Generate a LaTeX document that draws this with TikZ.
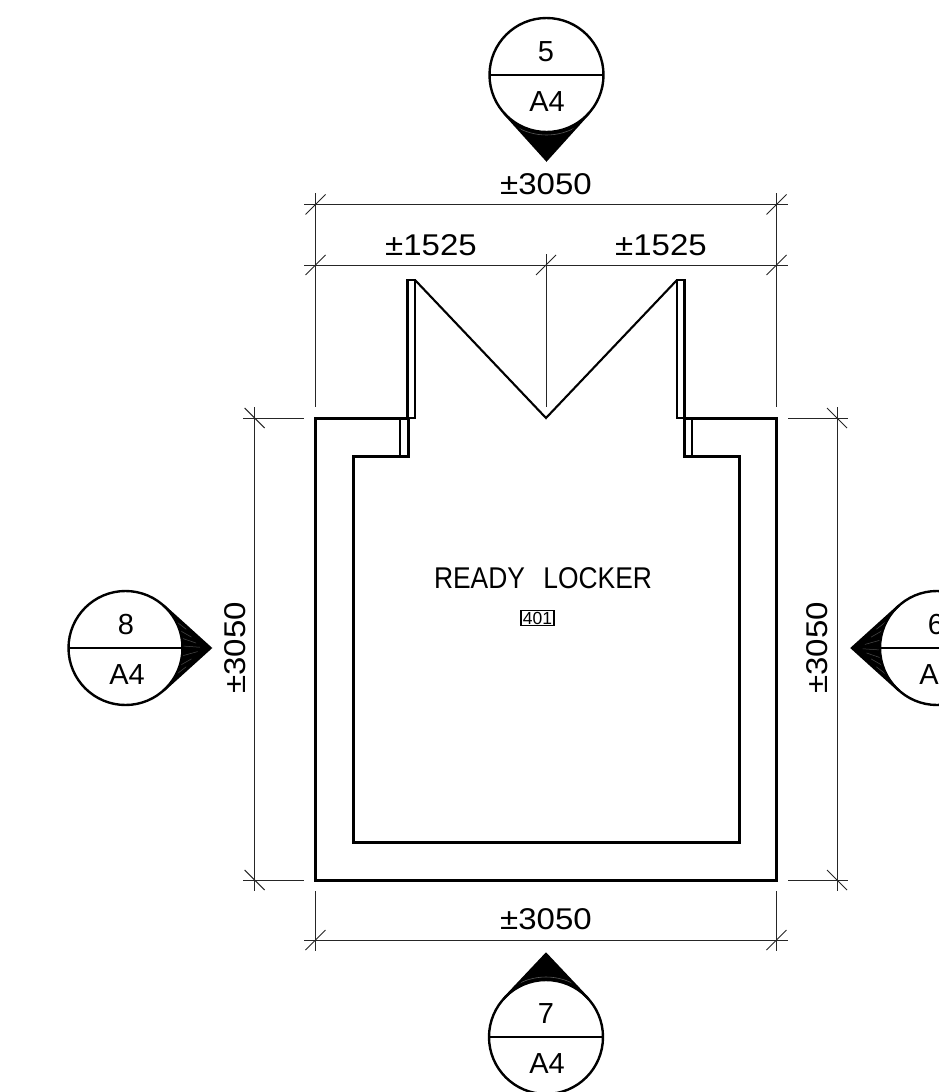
\documentclass[tikz,border=0pt]{standalone}
\usepackage{fontspec}
\usetikzlibrary{calc}
\setmainfont{Liberation Sans}
\begin{document}
\begin{tikzpicture}[x=1pt,y=-1pt,
  wall/.style={line width=3pt,line join=miter,black},
  thin wall/.style={line width=2.1pt,black},
  dimline/.style={line width=1pt,black!85},
  bubline/.style={line width=2.4pt,black},
  dimtext/.style={inner sep=0pt,font=\fontsize{30}{30}\selectfont},
  bubtext/.style={inner sep=0pt,font=\fontsize{29}{29}\selectfont},
  roomtext/.style={inner sep=0pt,font=\fontsize{30}{30}\selectfont},
  tagbox/.style={draw,line width=1.5pt,inner xsep=2pt,inner ysep=1.2pt,font=\fontsize{17.5}{17.5}\selectfont}]
\useasboundingbox (0,0) rectangle (938,1092);
% #1,#2 centre, #3 rotation, #4 tip distance, #5 fan (1) or arc (0) streaks
\newcommand{\bubble}[5]{%
  \begin{scope}[shift={(#1,#2)},rotate=#3,x=1pt,y=1pt]
    \fill[black] (0,-#4) -- (42.4,-38.1) arc[start angle=-42,end angle=-138,radius=57] -- cycle;
    \ifnum#5=1
      \begin{scope}
        \clip (0,-#4) -- (42.4,-38.1) arc[start angle=-42,end angle=-138,radius=57] -- cycle;
        \foreach \a/\b in {-62/30,-72/38,-80/50,-88/62,-98/55,-108/38,-118/30}
          \draw[black!70,line width=0.5pt] (\a:57) -- ($(\a:57)!0.\b!(0,-#4)$);
      \end{scope}
    \else
      \draw[black!65,line width=0.6pt] (-58:60) arc[start angle=-58,end angle=-122,radius=60];
    \fi
    \draw[bubline] (0,0) circle[radius=57];
    \draw[bubline,line join=miter] (42.4,-38.1) -- (0,-#4) -- (-42.4,-38.1);
  \end{scope}}
% section markers
\bubble{546.5}{75}{0}{85}{0}
\coordinate (c5l) at (489.5,75); \coordinate (c5r) at (603.5,75);
\draw[bubline] (c5l) -- (c5r);
\node[bubtext] (m5a) at (546,52) {5};
\node[bubtext] (m5b) at (547,102) {A4};
\bubble{125.5}{648}{90}{85}{1}
\coordinate (c8l) at (68.5,648); \coordinate (c8r) at (182.5,648);
\draw[bubline] (c8l) -- (c8r);
\node[bubtext] (m8a) at (126,625) {8};
\node[bubtext] (m8b) at (127,675) {A4};
\bubble{937}{648}{-90}{85}{1}
\coordinate (c6l) at (880,648); \coordinate (c6r) at (994,648);
\draw[bubline] (c6l) -- (c6r);
\node[bubtext] (m6a) at (936,625) {6};
\node[bubtext] (m6b) at (937,675) {A4};
\bubble{546}{1037}{180}{83}{0}
\coordinate (c7l) at (489,1037); \coordinate (c7r) at (603,1037);
\draw[bubline] (c7l) -- (c7r);
\node[bubtext] (m7a) at (546,1014) {7};
\node[bubtext] (m7b) at (547,1064) {A4};
% reference coordinates
\coordinate (TL) at (315.5,418.3); \coordinate (TR) at (776.5,418.3);
\coordinate (BL) at (315.5,880); \coordinate (BR) at (776.5,880);
\coordinate (DLT) at (415,280); \coordinate (DRT) at (677,280);
\coordinate (DM) at (546,418);
% walls
\draw[wall] (408,418.3) -- (TL) -- (BL) -- (BR) -- (TR) -- (684.5,418.3);
\draw[wall] (408,417) -- (408,456.5) -- (353,456.5) -- (353,842) -- (739,842) -- (739,456.5) -- (684.5,456.5) -- (684.5,417);
\draw[thin wall] (400,418) -- (400,456);
\draw[thin wall] (691.7,418) -- (691.7,456);
% door leaves
\draw[thin wall] (407.5,418) -- (407.5,280) -- (DLT) -- (415,418) -- (407.5,418);
\draw[thin wall] (677,418) -- (DRT) -- (684.5,280) -- (684.5,418) -- cycle;
\draw[thin wall,line join=miter] (DLT) -- (DM) -- (DRT);
% dimensions: top
\coordinate (a1) at (304,204.5); \coordinate (a2) at (788,204.5);
\coordinate (b1) at (304,265); \coordinate (b2) at (788,265);
\draw[dimline] (a1) -- (a2);
\draw[dimline] (b1) -- (b2);
\draw[dimline] (315.5,193) -- (315.5,407);
\draw[dimline] (776.5,193) -- (776.5,407);
\draw[dimline] (546,254) -- (546,407);
\foreach \p in {315.5,776.5} {
  \draw[dimline] (\p-10,204.5+10) -- (\p+10,204.5-10);
  \draw[dimline] (\p-10,265+10) -- (\p+10,265-10);
  \draw[dimline] (\p-10,940+10) -- (\p+10,940-10);
  \draw[dimline] (\p,891) -- (\p,951);
}
\draw[dimline] (546-10,265+10) -- (546+10,265-10);
% bottom
\coordinate (c1) at (304,940); \coordinate (c2) at (788,940);
\draw[dimline] (c1) -- (c2);
% left and right
\coordinate (d1) at (254.7,407); \coordinate (d2) at (254.7,891);
\coordinate (e1) at (837,407); \coordinate (e2) at (837,891);
\draw[dimline] (d1) -- (d2);
\draw[dimline] (e1) -- (e2);
\foreach \q in {418,880} {
  \draw[dimline] (243,\q) -- (304,\q);
  \draw[dimline] (788,\q) -- (848,\q);
  \draw[dimline] (254.7-10,\q-10) -- (254.7+10,\q+10);
  \draw[dimline] (837-10,\q-10) -- (837+10,\q+10);
}
% dimension texts
\node[dimtext] (t1) at (546,184) {\scalebox{1.1}[1]{±3050}};
\node[dimtext] (t2) at (431,245) {\scalebox{1.1}[1]{±1525}};
\node[dimtext] (t3) at (661,245) {\scalebox{1.1}[1]{±1525}};
\node[dimtext] (t4) at (546,919) {\scalebox{1.1}[1]{±3050}};
\node[dimtext,rotate=90] (t5) at (235,648) {\scalebox{1.1}[1]{±3050}};
\node[dimtext,rotate=90] (t6) at (817,648) {\scalebox{1.1}[1]{±3050}};
% room label
\node[roomtext] (room) at (543,578) {\scalebox{0.88}[1]{READY\hspace{0.7em}LOCKER}};
\node[tagbox] (tag) at (537.5,618) {401};
\end{tikzpicture}
\end{document}
